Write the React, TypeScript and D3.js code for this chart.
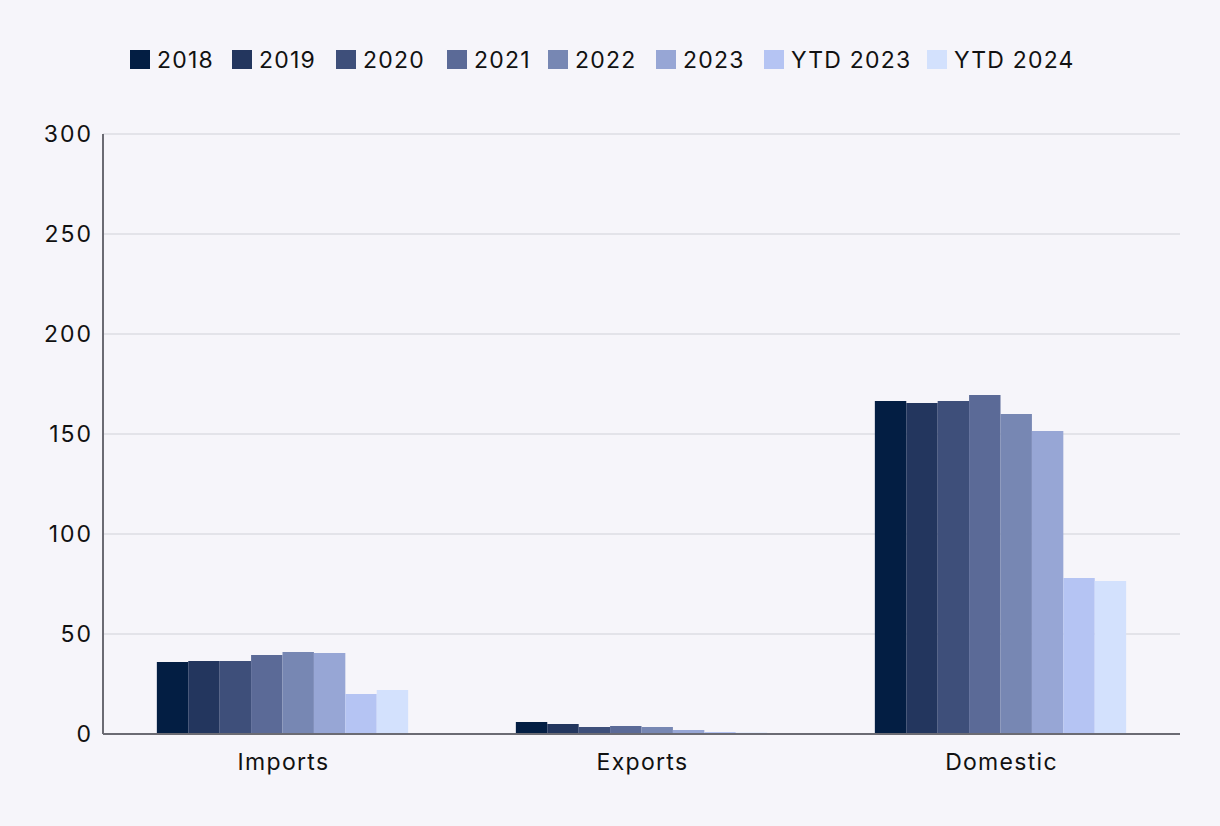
import React, { useEffect, useRef } from "react";
import * as d3 from "d3";

const categories = ["Imports", "Exports", "Domestic"];
const seriesNames = ["2018", "2019", "2020", "2021", "2022", "2023", "YTD 2023", "YTD 2024"];
const seriesColors = ["#031e43", "#23365e", "#3e4f7a", "#5b6a97", "#7787b3", "#97a6d5", "#b5c4f3", "#d3e1fd"];
const importsValues = [36, 36.5, 36.5, 39.5, 41, 40.5, 20, 22];
const exportsValues = [6, 5, 3.5, 4, 3.5, 2, 1, 0.7];
const domesticValues = [166.5, 165.5, 166.5, 169.5, 160, 151.5, 78, 76.5];
const yTicks = [0, 50, 100, 150, 200, 250, 300];
const legendX = [130, 232, 336, 447, 548, 656, 764, 927];

const W = 1220;
const H = 826;
const FONT = "Inter, 'Noto Sans', sans-serif";

export default function App() {
  const ref = useRef<SVGSVGElement>(null);
  useEffect(() => {
    const svg = d3.select(ref.current);
    svg.selectAll("*").remove();
    const left = 103, right = 1180, top = 134, bottom = 734;
    const values = [importsValues, exportsValues, domesticValues];

    svg.append("rect").attr("width", W).attr("height", H).attr("fill", "#f6f5fa");

    const y = d3.scaleLinear().domain([0, 300]).range([bottom, top]);
    const x0 = d3.scaleBand().domain(categories).range([left, right]).paddingInner(0.3).paddingOuter(0.15);
    const x1 = d3.scaleBand().domain(seriesNames).range([0, x0.bandwidth()]);

    // grid
    svg.append("g").selectAll("line").data(yTicks.filter((t) => t > 0)).join("line")
      .attr("x1", left).attr("x2", right)
      .attr("y1", (d) => y(d)).attr("y2", (d) => y(d))
      .attr("stroke", "#dddce3").attr("stroke-width", 1.5);

    // tick labels
    svg.append("g").selectAll("text").data(yTicks).join("text")
      .attr("x", 93).attr("y", (d) => y(d)).attr("dy", "0.35em")
      .attr("text-anchor", "end").attr("font-family", FONT).attr("font-size", 23)
      .attr("letter-spacing", 2)
      .attr("fill", "#111").text((d) => String(d));

    // bars
    const groups = svg.append("g").selectAll("g").data(categories).join("g")
      .attr("transform", (c) => `translate(${x0(c)},0)`);
    groups.selectAll("rect").data((c, i) => values[i].map((v, j) => ({ v, s: seriesNames[j], color: seriesColors[j] })))
      .join("rect")
      .attr("x", (d) => x1(d.s)!)
      .attr("width", x1.bandwidth())
      .attr("y", (d) => y(d.v))
      .attr("height", (d) => bottom - y(d.v))
      .attr("fill", (d) => d.color);

    // axes lines
    svg.append("line").attr("x1", left).attr("x2", left).attr("y1", top).attr("y2", bottom)
      .attr("stroke", "#6b6b73").attr("stroke-width", 2);
    svg.append("line").attr("x1", left).attr("x2", right).attr("y1", bottom).attr("y2", bottom)
      .attr("stroke", "#6b6b73").attr("stroke-width", 2);

    // category labels
    svg.append("g").selectAll("text").data(categories).join("text")
      .attr("x", (c) => x0(c)! + x0.bandwidth() / 2 + 1).attr("y", 762).attr("dy", "0.35em")
      .attr("text-anchor", "middle").attr("font-family", FONT).attr("font-size", 23)
      .attr("letter-spacing", 1.3)
      .attr("fill", "#111").text((c) => c);

    // legend
    const lg = svg.append("g").selectAll("g").data(seriesNames).join("g")
      .attr("transform", (d, i) => `translate(${legendX[i]},50)`);
    lg.append("rect").attr("width", 20).attr("height", 19).attr("fill", (d, i) => seriesColors[i]);
    lg.append("text").attr("x", 27).attr("y", 10).attr("dy", "0.35em")
      .attr("font-family", FONT).attr("font-size", 23).attr("letter-spacing", 1.2)
      .attr("fill", "#111").text((d) => d);
  }, []);
  return <svg ref={ref} width={W} height={H} style={{ display: "block", position: "absolute", left: 0, top: 0 }} />;
}
